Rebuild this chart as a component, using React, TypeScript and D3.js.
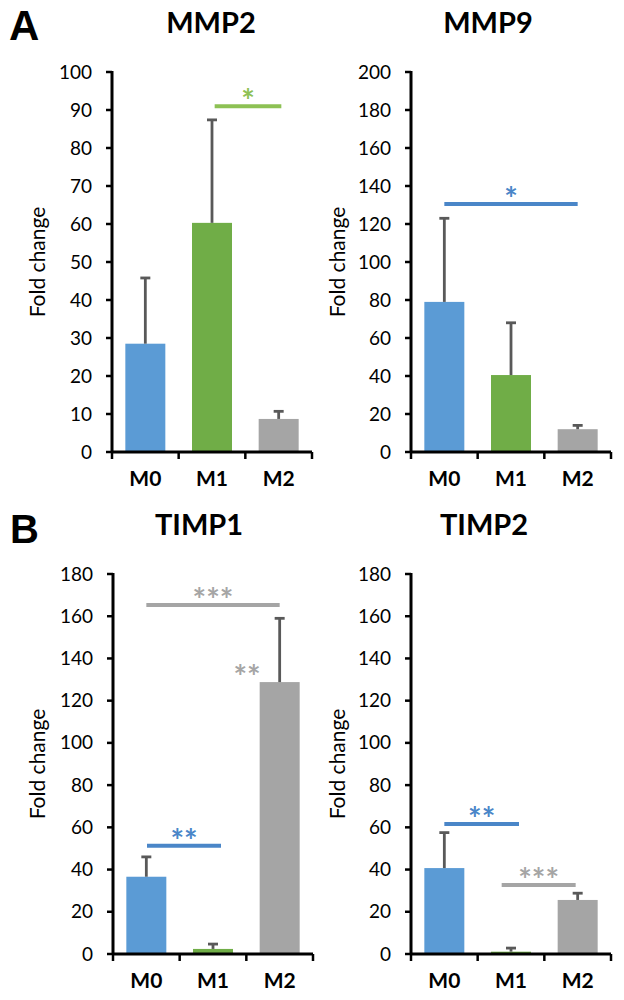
import React, { useEffect } from 'react';
import * as d3 from 'd3';

const categories = ['M0', 'M1', 'M2'];
const barColors = ['#5B9BD5', '#70AD47', '#A5A5A5'];

// mean fold change and upper error per group
const mmp2Mean = [28.5, 60.3, 8.7];
const mmp2Err = [17.3, 27.1, 2.0];
const mmp9Mean = [79, 40.5, 12];
const mmp9Err = [44, 27.5, 2];
const timp1Mean = [36.6, 2.4, 128.8];
const timp1Err = [9.4, 2.3, 30.2];
const timp2Mean = [40.7, 1.1, 25.6];
const timp2Err = [16.8, 1.7, 3.2];

// significance marks: from/to are category indices, value is the bar height level
const mmp2Sig = [{ from: 1.04, to: 2.04, value: 91, label: '*', color: '#8DC154' }];
const mmp9Sig = [{ from: 0, to: 2, value: 130.5, label: '*', color: '#4A86C8' }];
const timp1Sig = [
  { from: 0, to: 2, value: 165.3, label: '***', color: '#A5A5A5' },
  { from: 0.01, to: 1.12, value: 51.3, label: '**', color: '#4A86C8' },
  { at: 1.51, value: 129, label: '**', color: '#A5A5A5' },
];
const timp2Sig = [
  { from: 0, to: 1.12, value: 61.6, label: '**', color: '#4A86C8' },
  { from: 0.86, to: 1.97, value: 32.7, label: '***', color: '#A5A5A5' },
];

const panels = [
  { title: 'MMP2', means: mmp2Mean, errs: mmp2Err, yMax: 100, yStep: 10, sigs: mmp2Sig,
    layout: { axisX: 112, top: 72, bottom: 452, titleX: 211, titleY: 33, labelX: 45 } },
  { title: 'MMP9', means: mmp9Mean, errs: mmp9Err, yMax: 200, yStep: 20, sigs: mmp9Sig,
    layout: { axisX: 411, top: 72, bottom: 452, titleX: 488, titleY: 33, labelX: 345 } },
  { title: 'TIMP1', means: timp1Mean, errs: timp1Err, yMax: 180, yStep: 20, sigs: timp1Sig,
    layout: { axisX: 113, top: 574, bottom: 954, titleX: 199, titleY: 535, labelX: 45 } },
  { title: 'TIMP2', means: timp2Mean, errs: timp2Err, yMax: 180, yStep: 20, sigs: timp2Sig,
    layout: { axisX: 411, top: 574, bottom: 954, titleX: 484, titleY: 535, labelX: 345 } },
];

const FONT = 'Lato, "Open Sans", sans-serif';

function Panel({ title, means, errs, yMax, yStep, sigs, layout }: any) {
  const { axisX, top, bottom } = layout;
  const plotW = 200;
  const y = d3.scaleLinear().domain([0, yMax]).range([bottom, top]);
  const x = d3.scaleBand().domain(categories).range([axisX, axisX + plotW]).paddingInner(0.4).paddingOuter(0.2);
  const bw = x.bandwidth();
  const xi = d3.scaleLinear().domain([0, 1]).range([x('M0')! + bw / 2, x('M1')! + bw / 2]);
  const ticks = d3.range(0, yMax + yStep / 2, yStep);
  const step = x.step();

  return (
    <g>
      <text x={layout.titleX} y={layout.titleY} textAnchor="middle" fontFamily={FONT} fontWeight="bold" fontSize={29}>{title}</text>
      <text transform={`translate(${layout.labelX},${(top + bottom) / 2}) rotate(-90)`} textAnchor="middle" fontFamily={FONT} fontSize={21}>Fold change</text>

      {means.map((m: number, i: number) => (
        <rect key={i} x={x(categories[i])} y={y(m)} width={bw} height={y(0) - y(m)} fill={barColors[i]} />
      ))}
      {means.map((m: number, i: number) => {
        const cx = x(categories[i])! + bw / 2;
        const yt = y(m + errs[i]);
        return (
          <g key={i} stroke="#595959" strokeWidth={2.8}>
            <line x1={cx} x2={cx} y1={y(m)} y2={yt} />
            <line x1={cx - 5} x2={cx + 5} y1={yt} y2={yt} />
          </g>
        );
      })}

      {/* y axis */}
      <line x1={axisX} x2={axisX} y1={top - 1} y2={bottom} stroke="#000" strokeWidth={3} />
      {ticks.map((t) => (
        <g key={t}>
          <line x1={axisX - 6} x2={axisX} y1={y(t)} y2={y(t)} stroke="#000" strokeWidth={2.5} />
          <text x={axisX - 20} y={y(t) + 6.5} textAnchor="end" fontFamily={FONT} fontSize={19}>{t}</text>
        </g>
      ))}
      {/* x axis */}
      <line x1={axisX} x2={axisX + plotW} y1={bottom} y2={bottom} stroke="#000" strokeWidth={3} />
      {d3.range(0, 4).map((k) => (
        <line key={k} x1={axisX + k * step} x2={axisX + k * step} y1={bottom} y2={bottom + 7} stroke="#000" strokeWidth={2.5} />
      ))}
      {categories.map((c) => (
        <text key={c} x={x(c)! + bw / 2} y={bottom + 34} textAnchor="middle" fontFamily={FONT} fontWeight="bold" fontSize={21}>{c}</text>
      ))}

      {sigs.map((s: any, i: number) => {
        const ly = y(s.value);
        const cx = s.at !== undefined ? xi(s.at) : (xi(s.from) + xi(s.to)) / 2;
        return (
          <g key={i}>
            {s.at === undefined && (
              <line x1={xi(s.from)} x2={xi(s.to)} y1={ly} y2={ly} stroke={s.color} strokeWidth={4} />
            )}
            <text x={cx} y={ly + 7} textAnchor="middle" fill={s.color} fontFamily={FONT} fontWeight="bold" fontSize={32} letterSpacing={0}>{s.label}</text>
          </g>
        );
      })}
    </g>
  );
}

export default function App() {
  useEffect(() => {
    document.body.style.margin = '0';
  }, []);

  return (
    <svg width={624} height={1000} style={{ display: 'block', background: '#fff' }}>
      <text x={9} y={40} fontFamily='"Liberation Sans", Arial, sans-serif' fontWeight="bold" fontSize={42}>A</text>
      <text x={10} y={543} fontFamily='"Liberation Sans", Arial, sans-serif' fontWeight="bold" fontSize={40}>B</text>
      {panels.map((p) => (
        <Panel key={p.title} {...p} />
      ))}
    </svg>
  );
}
